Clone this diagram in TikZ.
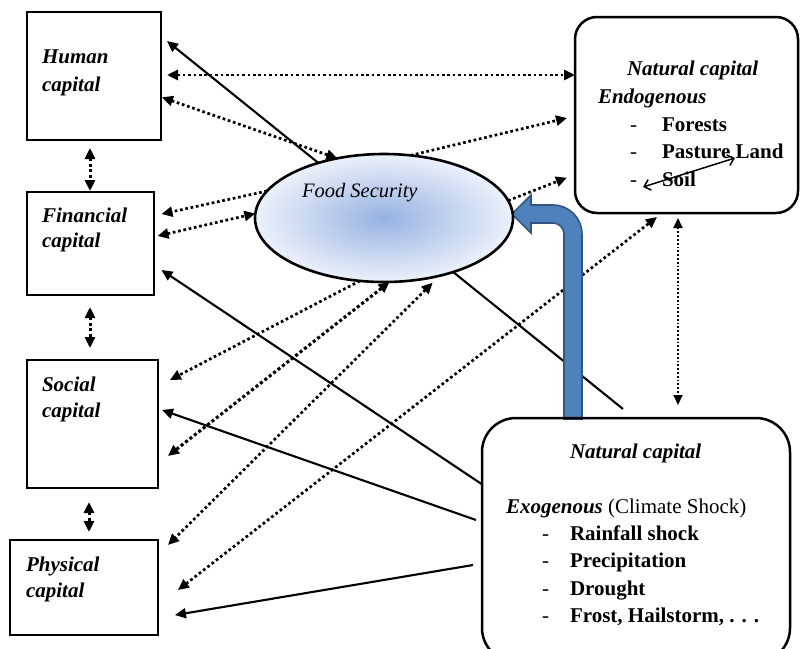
\documentclass[tikz,border=0pt]{standalone}
\usepackage{fontspec}
\setmainfont{Liberation Serif}
\usetikzlibrary{arrows.meta,calc,shapes.geometric}
\pgfdeclarelayer{background}
\pgfsetlayers{background,main}
\definecolor{arrowblue}{RGB}{79,129,189}
\definecolor{arrowedge}{RGB}{50,85,130}
\definecolor{fsin}{RGB}{150,178,226}
\definecolor{fsout}{RGB}{236,241,250}
\begin{document}
\begin{tikzpicture}[x=1pt,y=-1pt,
  capbox/.style={draw,line width=2.8pt,rectangle,inner sep=0pt,outer sep=0pt},
  natbox/.style={draw,line width=2.5pt,rectangle,rounded corners=22pt,inner sep=0pt,outer sep=0pt},
  txt/.style={anchor=base west,inner sep=0pt,outer sep=0pt,font=\fontsize{21}{25}\selectfont},
  captxt/.style={txt,font=\fontsize{21}{25}\selectfont\bfseries\itshape},
  itemtxt/.style={txt,font=\fontsize{21}{25}\selectfont\bfseries},
  solidarrow/.style={line width=2.1pt,-{Triangle[length=11pt,width=10pt]}},
  plainline/.style={line width=2.1pt},
  dotarrow/.style={line width=2.7pt,dash pattern=on 2.7pt off 2.7pt,-{Triangle[length=11pt,width=10pt]}},
  dotboth/.style={line width=2.7pt,dash pattern=on 2.7pt off 2.7pt,{Triangle[length=11pt,width=10pt]}-{Triangle[length=11pt,width=10pt]}},
  finedot/.style={line width=1.8pt,dash pattern=on 1.8pt off 2pt,{Triangle[length=10pt,width=9pt]}-{Triangle[length=10pt,width=9pt]}},
  barb/.style={line width=1.5pt,{Straight Barb[length=6pt,width=11pt]}-{Straight Barb[length=6pt,width=11pt]}}
]
\useasboundingbox (0,0) rectangle (800,648);

% boxes
\node[capbox,minimum width=134pt,minimum height=128pt] (hum) at (94,76) {};
\node[capbox,minimum width=127pt,minimum height=103pt] (fin) at (90.5,243.5) {};
\node[capbox,minimum width=131pt,minimum height=128pt] (soc) at (92.5,424) {};
\node[capbox,minimum width=148pt,minimum height=95pt] (phy) at (84,587.5) {};
\node[natbox,minimum width=223pt,minimum height=196pt] (endo) at (686.5,115) {};
\node[natbox,rounded corners=34pt,minimum width=308pt,minimum height=244pt] (exo) at (636,540) {};
\node[ellipse,draw,line width=2.6pt,minimum width=258pt,minimum height=128pt,inner sep=0pt,outer sep=0pt,
      shade,shading=radial,inner color=fsin,outer color=fsout] (fs) at (384,218) {};

% texts
\node[captxt] (thum1) at (42,63) {Human};
\node[captxt] (thum2) at (42,91) {capital};
\node[captxt] (tfin1) at (42,222) {Financial};
\node[captxt] (tfin2) at (42,247) {capital};
\node[captxt] (tsoc1) at (42,391) {Social};
\node[captxt] (tsoc2) at (42,417) {capital};
\node[captxt] (tphy1) at (26,571) {Physical};
\node[captxt] (tphy2) at (26,597) {capital};
\node[txt,font=\fontsize{20.5}{24}\selectfont\itshape] (tfs) at (302,197) {Food Security};

\node[captxt] (ten1) at (627,75) {Natural capital};
\node[captxt] (ten2) at (598,103) {Endogenous};
\node[txt] (tend1) at (630,131) {-};
\node[txt] (tend2) at (630,158) {-};
\node[txt] (tend3) at (630,186) {-};
\node[itemtxt] (ten3) at (662,131) {Forests};
\node[itemtxt] (ten4) at (662,158) {Pasture Land};
\node[itemtxt] (ten5) at (662,186) {Soil};

\node[captxt] (tex1) at (570,458) {Natural capital};
\node[txt] (tex2) at (506,513) {\bfseries\itshape Exogenous\mdseries\upshape{} (Climate Shock)};
\node[txt] (texd1) at (542,540) {-};
\node[txt] (texd2) at (542,567) {-};
\node[txt] (texd3) at (542,595) {-};
\node[txt] (texd4) at (542,622) {-};
\node[itemtxt] (tex3) at (570,540) {Rainfall shock};
\node[itemtxt] (tex4) at (570,567) {Precipitation};
\node[itemtxt] (tex5) at (570,595) {Drought};
\node[itemtxt] (tex6) at (570,622) {Frost, Hailstorm, . . .};

% arrow inside endogenous box
\coordinate (sa) at (735,158);
\coordinate (sb) at (643,187);
\draw[barb] (sb) -- (sa);

\begin{pgfonlayer}{background}
\fill[white] (0,0) rectangle (800,648);
\draw[solidarrow,shorten >=7.7pt] (fs.140) -- (hum.east |- 0,36.2);
\draw[dotboth,shorten <=6pt] (hum.east |- 0,75) -- (endo.west |- 0,75);
\draw[dotboth,shorten <=1pt] (hum.east |- 0,97) -- (fs.128);
\draw[dotarrow,shorten >=8.2pt] (fs.67) -- (endo.west |- 0,116.1);
\draw[dotarrow,shorten >=8.7pt] (fs.8) -- (endo.west |- 0,174.5);
\draw[dotarrow,shorten >=7.7pt] (fs.167) -- (fin.east |- 0,215.7);
\draw[dotboth,shorten <=3.6pt] (fin.east |- 0,236.8) -- (fs.178);
\draw[solidarrow,shorten >=9pt] (exo.west |- 0,484.3) -- (fin.east |- 0,265);
\draw[solidarrow,shorten <=6.4pt,shorten >=4.2pt] (exo.west |- 0,522.1) -- (soc.east |- 0,408.6);
\draw[solidarrow,shorten <=9.1pt,shorten >=17.2pt] (exo.west |- 0,563.5) -- (phy.east |- 0,617.9);
\draw[plainline,shorten >=14.4pt] (fs.-38) -- (exo.north -| 634.2,0);
\draw[dotarrow,shorten >=13.5pt] (fs.-111) -- (soc.east |- 0,386.2);
\draw[dotboth,line width=3.1pt,dash pattern=on 3.1pt off 2.5pt,shorten >=12.7pt] (fs.-85) -- (soc.east |- 0,463.8);
\draw[dotboth,shorten <=9.9pt,shorten >=14.1pt] (fs.-46.5) -- (phy.east |- 0,554.9);
\draw[dotboth,shorten <=25.3pt,shorten >=6.5pt] (phy.east |- 0,605.6) -- (endo.south -| 662.1,0);
\draw[finedot,shorten <=5pt,shorten >=13pt] (endo.south -| 678,0) -- (exo.north -| 678,0);
\draw[dotboth,line width=3pt,dash pattern=on 3pt off 2.4pt,shorten <=8pt,shorten >=1pt] (hum.south -| 90,0) -- (fin.north -| 90,0);
\draw[dotboth,line width=3pt,dash pattern=on 3pt off 2.4pt,shorten <=12pt,shorten >=12pt] (fin.south -| 90,0) -- (soc.north -| 90,0);
\draw[dotboth,line width=3pt,dash pattern=on 3pt off 2.4pt,shorten <=14pt,shorten >=8pt] (soc.south -| 89,0) -- (phy.north -| 89,0);
% blue bent arrow
\filldraw[fill=arrowblue,draw=arrowedge,line width=1.6pt,line join=miter]
  (564,419) -- (564,234) .. controls (564,228) and (559,223) .. (553,223) -- (531,223) -- (531,233)
  -- (512,214) -- (531,195) -- (531,205) -- (553,205) .. controls (569,205) and (582,218) .. (582,234)
  -- (582,419) -- cycle;
\end{pgfonlayer}
\end{tikzpicture}
\end{document}
